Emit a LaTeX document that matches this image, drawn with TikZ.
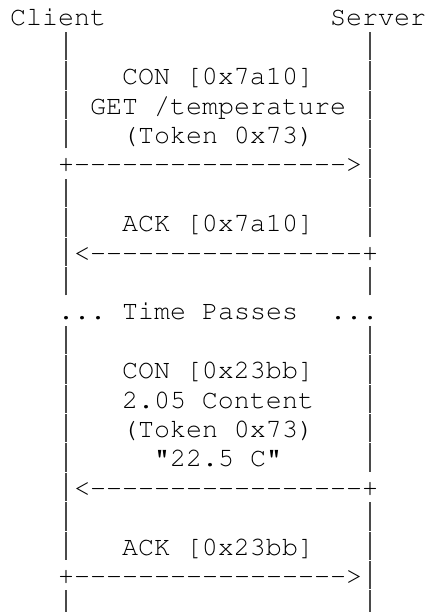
\documentclass[tikz,border=0pt]{standalone}
\usepackage[T1]{fontenc}
\usetikzlibrary{positioning}
\definecolor{bargray}{HTML}{4A4A4A}
\newcommand{\dsh}{-{}-{}-{}-{}-{}-{}-{}-{}-{}-{}-{}-{}-{}-{}-{}-{}-{}}
\newcommand{\vb}{\makebox[16pt]{\textcolor{bargray}{\rule[-4.8pt]{1.7pt}{28.4pt}}}}
\tikzset{
  asciirow/.style={anchor=base west, inner sep=0pt, outer sep=0pt, text=black,
    font=\fontencoding{T1}\fontfamily{pcr}\fontsize{26.67pt}{29.4pt}\selectfont}
}
\begin{document}
\begin{tikzpicture}[x=1pt,y=1pt]
\useasboundingbox (0,0) rectangle (429,612);
\node[asciirow] (r1)  at (10,{612-26-0*29.4}) {Client~~~~~~~~~~~~~~Server};
\node[asciirow] (r2)  at (58,{612-26-1*29.4}) {\vb~~~~~~~~~~~~~~~~~~\vb};
\node[asciirow] (r3)  at (58,{612-26-2*29.4}) {\vb~~~CON~[0x7a10]~~~\vb};
\node[asciirow] (r4)  at (58,{612-26-3*29.4}) {\vb~GET~/temperature~\vb};
\node[asciirow] (r5)  at (58,{612-26-4*29.4}) {\vb~~~(Token~0x73)~~~\vb};
\node[asciirow] (r6)  at (58,{612-26-5*29.4}) {+\dsh>\vb};
\node[asciirow] (r7)  at (58,{612-26-6*29.4}) {\vb~~~~~~~~~~~~~~~~~~\vb};
\node[asciirow] (r8)  at (58,{612-26-7*29.4}) {\vb~~~ACK~[0x7a10]~~~\vb};
\node[asciirow] (r9)  at (58,{612-26-8*29.4}) {\vb<\dsh+};
\node[asciirow] (r10) at (58,{612-26-9*29.4}) {\vb~~~~~~~~~~~~~~~~~~\vb};
\node[asciirow] (r11) at (58,{612-26-10*29.4}) {.{}.{}.~Time~Passes~~.{}.{}.};
\node[asciirow] (r12) at (58,{612-26-11*29.4}) {\vb~~~~~~~~~~~~~~~~~~\vb};
\node[asciirow] (r13) at (58,{612-26-12*29.4}) {\vb~~~CON~[0x23bb]~~~\vb};
\node[asciirow] (r14) at (58,{612-26-13*29.4}) {\vb~~~2.05~Content~~~\vb};
\node[asciirow] (r15) at (58,{612-26-14*29.4}) {\vb~~~(Token~0x73)~~~\vb};
\node[asciirow] (r16) at (58,{612-26-15*29.4}) {\vb~~~~~"22.5~C"~~~~~\vb};
\node[asciirow] (r17) at (58,{612-26-16*29.4}) {\vb<\dsh+};
\node[asciirow] (r18) at (58,{612-26-17*29.4}) {\vb~~~~~~~~~~~~~~~~~~\vb};
\node[asciirow] (r19) at (58,{612-26-18*29.4}) {\vb~~~ACK~[0x23bb]~~~\vb};
\node[asciirow] (r20) at (58,{612-26-19*29.4}) {+\dsh>\vb};
\node[asciirow] (r21) at (58,{612-26-20*29.4}) {\vb~~~~~~~~~~~~~~~~~~\vb};
\end{tikzpicture}
\end{document}
